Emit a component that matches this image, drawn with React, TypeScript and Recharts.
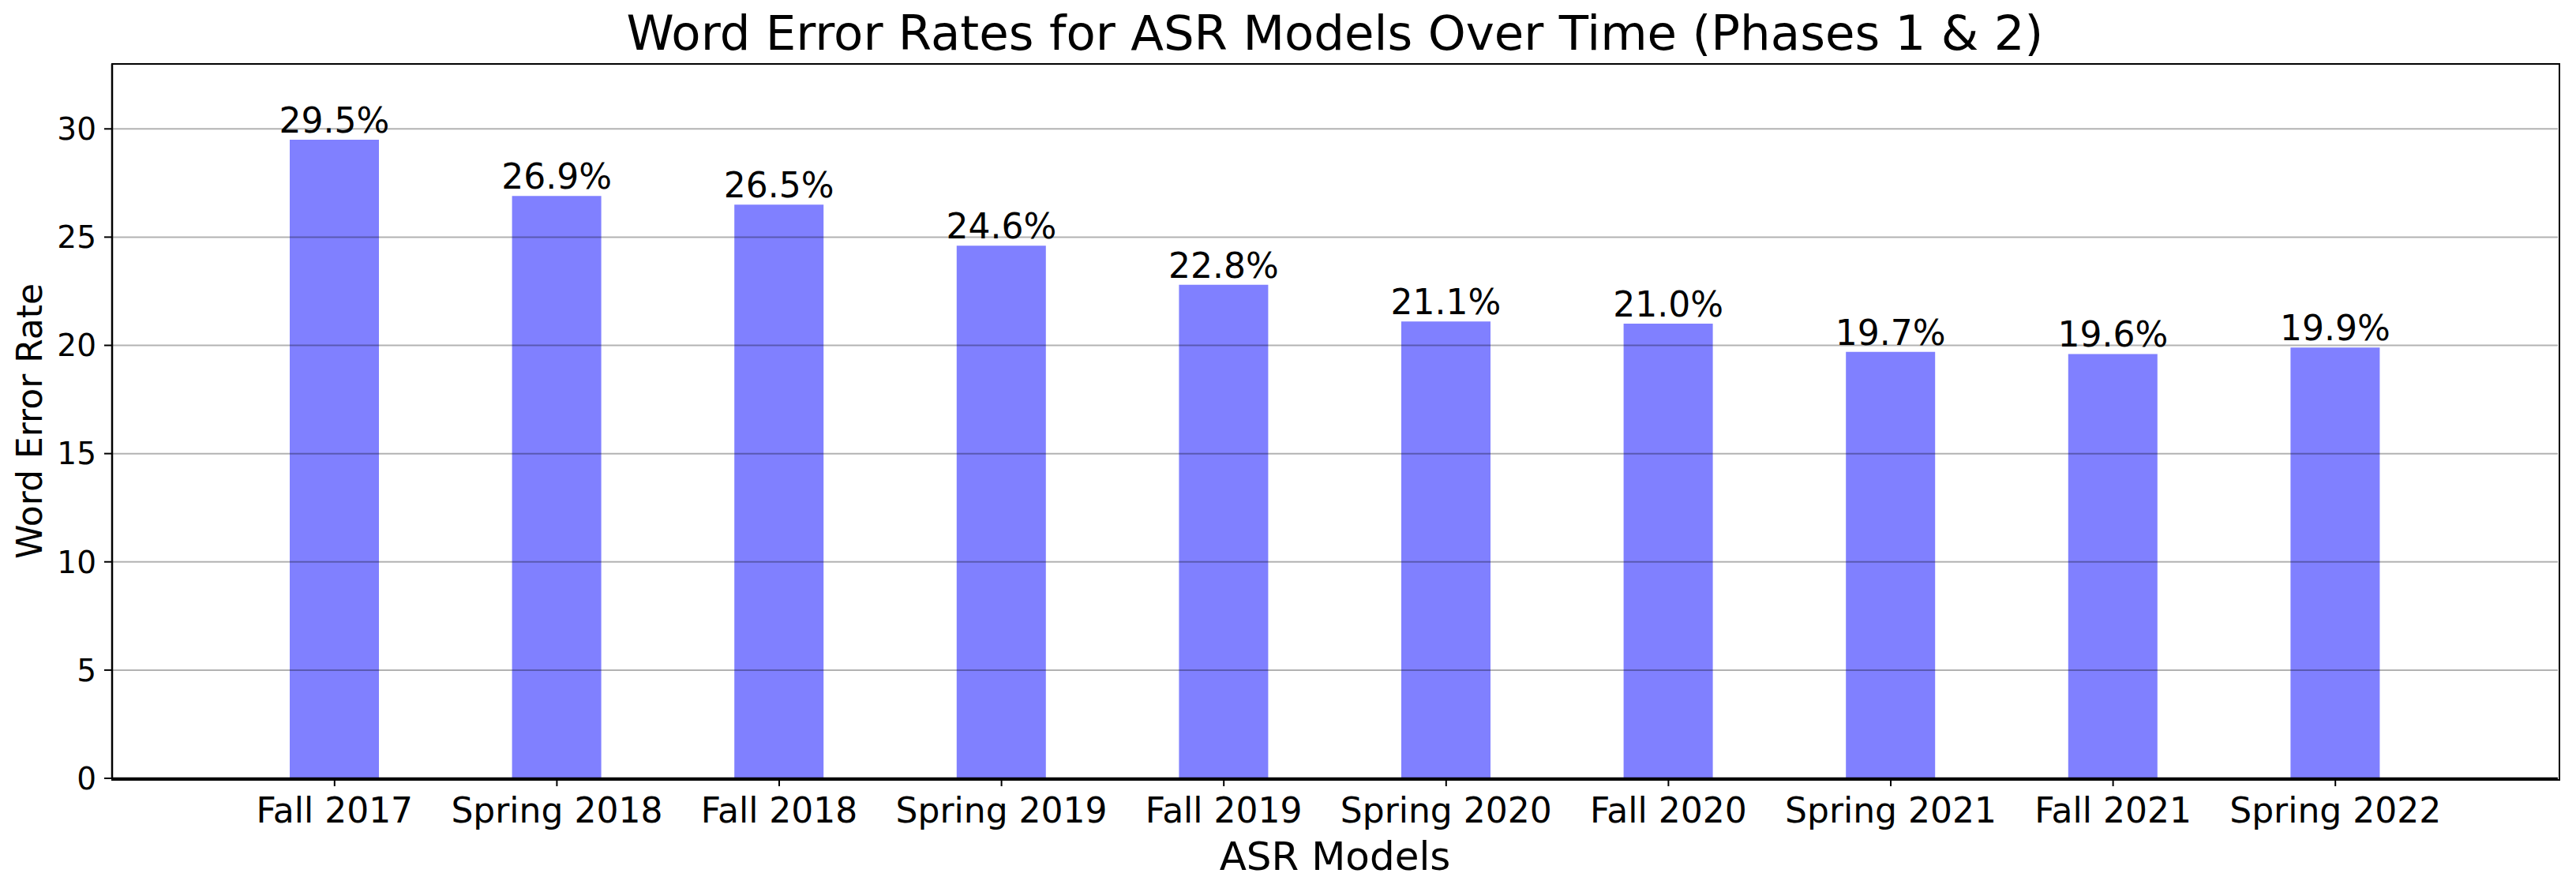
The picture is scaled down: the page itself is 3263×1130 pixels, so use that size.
import React from 'react';
import { BarChart, Bar, XAxis, YAxis, ReferenceLine, LabelList, Label } from 'recharts';

const categories = ['Fall 2017', 'Spring 2018', 'Fall 2018', 'Spring 2019', 'Fall 2019', 'Spring 2020', 'Fall 2020', 'Spring 2021', 'Fall 2021', 'Spring 2022'];
const werValues = [29.5, 26.9, 26.5, 24.6, 22.8, 21.1, 21.0, 19.7, 19.6, 19.9];
const yTicks = [0, 5, 10, 15, 20, 25, 30];

const data = categories.map((c, i) => ({ model: c, wer: werValues[i] }));

const FONT = 'DejaVu Sans';
const W = 3263;
const H = 1130;
const M = { top: 81, right: 23, left: 142, bottom: 144 };

const ValueLabel = (props: any) => {
  const { x, y, width, value } = props;
  return (
    <text x={Number(x) + Number(width) / 2} y={Number(y) - 9} textAnchor="middle" fontFamily={FONT} fontSize={44} fill="#000">
      {Number(value).toFixed(1)}%
    </text>
  );
};

export default function App() {
  return (
    <div style={{ position: 'absolute', left: 0, top: 0, width: W, height: H, background: '#fff' }}>
      <div style={{ position: 'absolute', left: M.left, width: W - M.left - M.right, top: 6, textAlign: 'center', fontFamily: FONT, fontSize: 61, lineHeight: '72px', color: '#000' }}>
        Word Error Rates for ASR Models Over Time (Phases 1 &amp; 2)
      </div>
      <BarChart width={W} height={H} data={data} margin={{ top: M.top, right: M.right, bottom: 0, left: 0 }} barCategoryGap={0}>
        <XAxis
          dataKey="model"
          type="category"
          height={M.bottom}
          padding={{ left: 141, right: 141 }}
          tick={{ fontFamily: FONT, fontSize: 44, fill: '#000' }}
          tickSize={10}
          tickMargin={15}
          axisLine={{ stroke: '#000', strokeWidth: 2.5 }}
          tickLine={{ stroke: '#000', strokeWidth: 2 }}
          interval={0}
        >
          <Label
            content={(p: any) => {
              const vb = p.viewBox;
              return (
                <text x={vb.x + vb.width / 2} y={vb.y + 116} textAnchor="middle" fontFamily={FONT} fontSize={50} fill="#000">
                  ASR Models
                </text>
              );
            }}
          />
        </XAxis>
        <YAxis
          type="number"
          domain={[0, 33]}
          ticks={yTicks}
          width={M.left}
          tick={{ fontFamily: FONT, fontSize: 39, fill: '#000' }}
          tickSize={10}
          tickMargin={10}
          axisLine={{ stroke: '#000', strokeWidth: 2.5 }}
          tickLine={{ stroke: '#000', strokeWidth: 2 }}
          allowDataOverflow
        >
          <Label
            content={(p: any) => {
              const vb = p.viewBox;
              const cy = vb.y + vb.height / 2;
              return (
                <text x={53} y={cy} transform={`rotate(-90, 53, ${cy})`} textAnchor="middle" fontFamily={FONT} fontSize={44} fill="#000">
                  Word Error Rate
                </text>
              );
            }}
          />
        </YAxis>
        <Bar dataKey="wer" fill="#8080ff" barSize={113} isAnimationActive={false}>
          <LabelList dataKey="wer" content={ValueLabel} />
        </Bar>
        {yTicks.map((t) => (
          <ReferenceLine key={t} y={t} stroke="#000" strokeOpacity={0.3} strokeWidth={2} />
        ))}
      </BarChart>
      <div
        style={{
          position: 'absolute',
          left: M.left - 1.25,
          top: M.top - 1.25,
          width: W - M.left - M.right,
          height: H - M.top - M.bottom,
          border: '2.5px solid #000',
          boxSizing: 'content-box',
          pointerEvents: 'none',
        }}
      />
    </div>
  );
}
